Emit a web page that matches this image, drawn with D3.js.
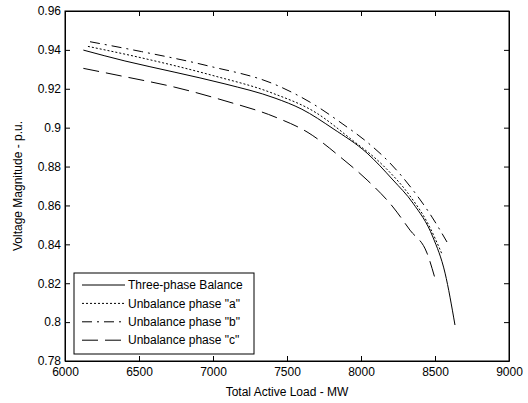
<!DOCTYPE html>
<html lang="en">
<head>
  <meta charset="UTF-8">
  <title>Voltage vs load</title>
  <style>
  body { margin: 0; background: #fff; }
  svg { display: block; font-family: Arial, "Liberation Sans", sans-serif; }
  .axis path, .axis line { stroke: #000; }
  .axis text { font-size: 12px; fill: #000; }
  .curve { fill: none; stroke: #000; stroke-width: 1; }
</style>
</head>
<body>
  <script src="https://d3js.org/d3.v7.min.js"></script>
  <script>
// series: load in MW, voltage in p.u.
const balanceLoad = [6124, 6405, 6743, 7081, 7419, 7600, 7811, 8041, 8216, 8351, 8486, 8568, 8635]
const balanceV = [0.9399, 0.9343, 0.9285, 0.9225, 0.9152, 0.9095, 0.8995, 0.8869, 0.8731, 0.8612, 0.8437, 0.8252, 0.7985]
const phaseALoad = [6155, 6500, 7000, 7400, 7700, 7926, 8150, 8330, 8450, 8550]
const phaseAV = [0.9418, 0.9362, 0.9268, 0.9178, 0.9075, 0.8945, 0.8805, 0.865, 0.851, 0.8345]
const phaseBLoad = [6169, 6518, 6966, 7419, 7689, 7878, 8041, 8196, 8351, 8480, 8581]
const phaseBV = [0.9442, 0.9391, 0.9318, 0.9222, 0.9116, 0.9018, 0.8926, 0.8818, 0.8679, 0.854, 0.8412]
const phaseCLoad = [6124, 6405, 6743, 7081, 7419, 7642, 7878, 8041, 8216, 8331, 8446, 8507]
const phaseCV = [0.9305, 0.9262, 0.9208, 0.9138, 0.9055, 0.8975, 0.8838, 0.8731, 0.8592, 0.8473, 0.8355, 0.8206]

const seriesNames = ["Three-phase Balance", "Unbalance phase \"a\"", "Unbalance phase \"b\"", "Unbalance phase \"c\""]
const xTicks = [6000, 6500, 7000, 7500, 8000, 8500, 9000]
const yTicks = [0.78, 0.8, 0.82, 0.84, 0.86, 0.88, 0.9, 0.92, 0.94, 0.96]

const width = 528, height = 403
const margin = {top: 11, right: 19, bottom: 42, left: 65}
const dashes = [null, "2,2", "10,5,2,5", "16,7"]

const series = [
  balanceLoad.map((d, i) => [d, balanceV[i]]),
  phaseALoad.map((d, i) => [d, phaseAV[i]]),
  phaseBLoad.map((d, i) => [d, phaseBV[i]]),
  phaseCLoad.map((d, i) => [d, phaseCV[i]])
]

const x = d3.scaleLinear().domain([6000, 9000]).range([margin.left, width - margin.right])
const y = d3.scaleLinear().domain([0.78, 0.96]).range([height - margin.bottom, margin.top])

const svg = d3.select("body").append("svg")
  .attr("width", width)
  .attr("height", height)

svg.append("rect").attr("width", width).attr("height", height).attr("fill", "#fff")

// box with inward ticks on all four sides
svg.append("g").attr("class", "axis")
  .attr("transform", `translate(0,${height - margin.bottom})`)
  .call(d3.axisBottom(x).tickValues(xTicks).tickSize(-5).tickSizeOuter(0).tickPadding(6).tickFormat(d3.format("d")))
svg.append("g").attr("class", "axis")
  .attr("transform", `translate(0,${margin.top})`)
  .call(d3.axisTop(x).tickValues(xTicks).tickSize(-5).tickSizeOuter(0).tickFormat(""))
svg.append("g").attr("class", "axis")
  .attr("transform", `translate(${margin.left},0)`)
  .call(d3.axisLeft(y).tickValues(yTicks).tickSize(-5).tickSizeOuter(0).tickPadding(4).tickFormat(d3.format("~g")))
svg.append("g").attr("class", "axis")
  .attr("transform", `translate(${width - margin.right},0)`)
  .call(d3.axisRight(y).tickValues(yTicks).tickSize(-5).tickSizeOuter(0).tickFormat(""))

svg.append("rect")
  .attr("x", margin.left).attr("y", margin.top)
  .attr("width", width - margin.left - margin.right)
  .attr("height", height - margin.top - margin.bottom)
  .attr("fill", "none").attr("stroke", "#000")

const line = d3.line()
  .x(d => x(d[0]))
  .y(d => y(d[1]))
  .curve(d3.curveMonotoneX)

svg.append("g")
  .selectAll("path")
  .data(series)
  .enter().append("path")
    .attr("class", "curve")
    .attr("d", line)
    .attr("stroke-dasharray", (d, i) => dashes[i])

svg.append("text")
  .attr("x", (margin.left + width - margin.right) / 2)
  .attr("y", 396)
  .attr("text-anchor", "middle")
  .attr("font-size", 12)
  .text("Total Active Load - MW")

svg.append("text")
  .attr("transform", `translate(22,${(margin.top + height - margin.bottom) / 2}) rotate(-90)`)
  .attr("text-anchor", "middle")
  .attr("font-size", 12)
  .text("Voltage Magnitude - p.u.")

// legend
const legend = svg.append("g").attr("transform", "translate(74,273)")
legend.append("rect")
  .attr("width", 180).attr("height", 81)
  .attr("fill", "#fff").attr("stroke", "#000")
const item = legend.selectAll("g.item")
  .data(seriesNames)
  .enter().append("g")
    .attr("class", "item")
    .attr("transform", (d, i) => `translate(0,${12 + i * 18.4})`)
item.append("line")
  .attr("x1", 8).attr("x2", 51)
  .attr("stroke", "#000")
  .attr("stroke-dasharray", (d, i) => dashes[i])
item.append("text")
  .attr("x", 54)
  .attr("dy", "0.35em")
  .attr("font-size", 12)
  .text(d => d)
  </script>
</body>
</html>
